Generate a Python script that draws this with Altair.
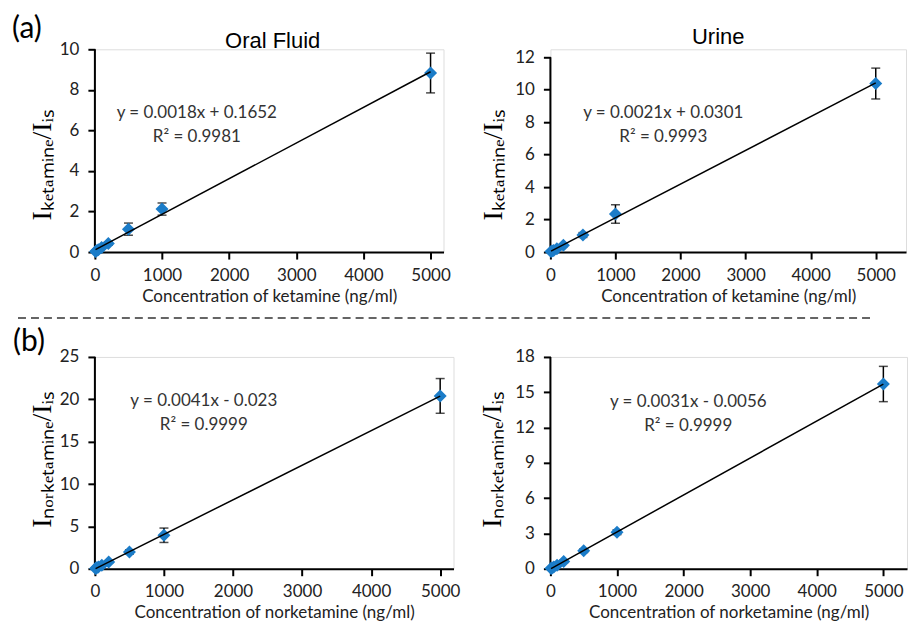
import altair as alt
import pandas as pd

# ---------------- data ----------------
conc = [10, 25, 50, 100, 200, 500, 1000, 5000]
x_ticks = [0, 1000, 2000, 3000, 4000, 5000]

ket_oral = [0.03, 0.06, 0.11, 0.22, 0.42, 1.13, 2.12, 8.83]
ket_oral_err = [0.02, 0.03, 0.04, 0.05, 0.08, 0.30, 0.30, 0.98]
ket_urine = [0.03, 0.06, 0.10, 0.21, 0.42, 1.05, 2.34, 10.38]
ket_urine_err = [0.02, 0.03, 0.03, 0.05, 0.08, 0.15, 0.57, 0.95]
nor_oral = [0.04, 0.10, 0.20, 0.40, 0.80, 1.98, 3.95, 20.40]
nor_oral_err = [0.02, 0.04, 0.05, 0.10, 0.15, 0.25, 0.85, 2.05]
nor_urine = [0.03, 0.07, 0.15, 0.30, 0.62, 1.53, 3.10, 15.70]
nor_urine_err = [0.02, 0.03, 0.04, 0.06, 0.10, 0.15, 0.20, 1.50]

yt_ket_oral = [0, 2, 4, 6, 8, 10]
yt_ket_urine = [0, 2, 4, 6, 8, 10, 12]
yt_nor_oral = [0, 5, 10, 15, 20, 25]
yt_nor_urine = [0, 3, 6, 9, 12, 15, 18]

eq_ket_oral = "y = 0.0018x + 0.1652\nR² = 0.9981"
eq_ket_urine = "y = 0.0021x + 0.0301\nR² = 0.9993"
eq_nor_oral = "y = 0.0041x - 0.023\nR² = 0.9999"
eq_nor_urine = "y = 0.0031x - 0.0056\nR² = 0.9999"

xtitle_ket = "Concentration of ketamine (ng/ml)"
xtitle_nor = "Concentration of norketamine (ng/ml)"
ytitle_ket = "Iₖₑₜₐₘᵢₙₑ/Iᵢₛ"
ytitle_nor = "Iₙₒᵣₖₑₜₐₘᵢₙₑ/Iᵢₛ"
headers = ["Oral Fluid", "Urine"]
tags = ["(a)", "(b)"]

FONT = "Lato"
BLUE = "#1B7CC8"


def txt(s, x, y, size, font=FONT, align="center", baseline="middle", color="black"):
    return alt.Chart(pd.DataFrame({"t": [s]})).mark_text(
        font=font, fontSize=size, align=align, baseline=baseline,
        lineBreak="\n", lineHeight=24, color=color
    ).encode(text="t:N", x=alt.value(x), y=alt.value(y))


def panel(vals, errs, yticks, ydom, xdom, w, h, xtitle, ytitle, ytx, yty,
          eq, eqx, eqy, extras=()):
    df = pd.DataFrame({"conc": conc, "ratio": vals, "err": errs})
    df["lo"] = df["ratio"] - df["err"]
    df["hi"] = df["ratio"] + df["err"]
    xscale = alt.Scale(domain=[0, xdom], nice=False, zero=True)
    yscale = alt.Scale(domain=[0, ydom], nice=False, zero=True)
    xaxis = alt.Axis(values=x_ticks, format="d", title=xtitle, grid=False, domain=True,
                     domainColor="black", domainWidth=2, tickColor="black",
                     tickWidth=2, tickSize=7, labelFont=FONT, labelFontSize=17,
                     labelColor="#222", labelPadding=8, labelFlush=False,
                     labelOverlap=False, titleFont=FONT, titleFontSize=17,
                     titleFontWeight="normal", titleColor="#222", titlePadding=5)
    yaxis = alt.Axis(values=yticks, format="d", title=ytitle, grid=False, domain=False,
                     tickColor="black", tickWidth=2, tickSize=7,
                     labelFont=FONT, labelFontSize=17, labelColor="#222",
                     labelPadding=9, labelFlush=False, labelOverlap=False,
                     titleFont="Liberation Serif", titleFontSize=28,
                     titleFontWeight="normal", titleColor="black",
                     titleAngle=270, titleAlign="center",
                     titleBaseline="alphabetic", titleX=ytx, titleY=yty)
    X = alt.X("conc:Q", scale=xscale, axis=xaxis)
    base = alt.Chart(df)
    yline = alt.Chart(pd.DataFrame({"a": [yticks[0]], "b": [yticks[-1]]})).mark_rule(
        color="black", strokeWidth=2
    ).encode(x=alt.value(0), y=alt.Y("a:Q", scale=yscale, axis=yaxis), y2="b:Q")
    bars = base.mark_rule(color="black", strokeWidth=1.5).encode(
        x=X, y=alt.Y("lo:Q", scale=yscale, axis=yaxis), y2="hi:Q")
    cap_lo = base.mark_tick(orient="horizontal", size=9, thickness=1.5, color="black").encode(
        x=X, y=alt.Y("lo:Q", scale=yscale, axis=yaxis))
    cap_hi = base.mark_tick(orient="horizontal", size=9, thickness=1.5, color="black").encode(
        x=X, y=alt.Y("hi:Q", scale=yscale, axis=yaxis))
    pts = base.mark_point(shape="diamond", filled=True, size=170, color=BLUE, opacity=1).encode(
        x=X, y=alt.Y("ratio:Q", scale=yscale, axis=yaxis))
    trend = base.transform_regression("conc", "ratio").mark_line(
        color="black", strokeWidth=1.5).encode(
        x=X, y=alt.Y("ratio:Q", scale=yscale, axis=yaxis))
    note = txt(eq, eqx, eqy, 17, color="#333")
    layers = [yline, bars, cap_lo, cap_hi, pts, trend, note] + list(extras)
    return alt.layer(*layers).properties(width=w, height=h)


p1 = panel(ket_oral, ket_oral_err, yt_ket_oral, 10, 5193, 349, 203,
           xtitle_ket, ytitle_ket, -44, 115, eq_ket_oral, 102, 64,
           extras=[txt(headers[0], 178, -1, 22, font="Liberation Sans", baseline="alphabetic"),
                   txt(tags[0], -83, -35, 30, align="left", baseline="top")])
p2 = panel(ket_urine, ket_urine_err, yt_ket_urine, 12.49, 5465, 356, 203,
           xtitle_ket, ytitle_ket, -49, 115, eq_ket_urine, 113, 64,
           extras=[txt(headers[1], 168, -5, 22, font="Liberation Sans", baseline="alphabetic")])
p3 = panel(nor_oral, nor_oral_err, yt_nor_oral, 25, 5193, 359, 212,
           xtitle_nor, ytitle_nor, -44, 102, eq_nor_oral, 109, 44,
           extras=[txt(tags[1], -82, -30, 30, align="left", baseline="top"),
                   alt.Chart(pd.DataFrame({"k": [0]})).mark_rule(
                       strokeDash=[8, 5], color="#333", strokeWidth=1.3
                   ).encode(x=alt.value(17 - 94), x2=alt.value(872 - 94), y=alt.value(317 - 356))])
p4 = panel(nor_urine, nor_urine_err, yt_nor_urine, 18, 5355, 357, 212,
           xtitle_nor, ytitle_nor, -50, 102, eq_nor_urine, 138, 45)

chart = alt.concat(p1, p2, p3, p4, columns=2, spacing={"row": 105, "column": 97},
                   bounds="flush").properties(
    padding={"left": 11, "top": 13, "right": 0, "bottom": 0}
).configure_view(stroke=None).configure(background="white")

chart.save("out.html", embed_options={"renderer": "svg", "actions": False})
